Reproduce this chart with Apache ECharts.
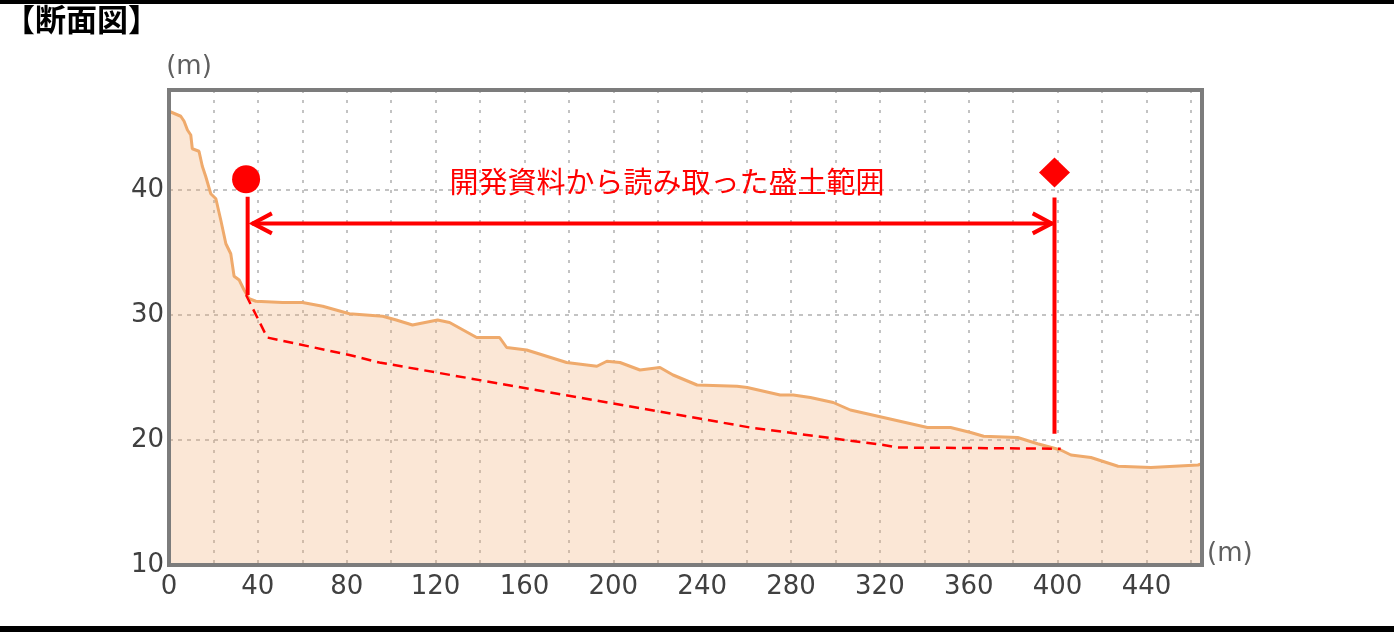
<!DOCTYPE html>
<html><head><meta charset="utf-8">
<script src="https://cdn.jsdelivr.net/npm/echarts@6/dist/echarts.min.js"></script>
<style>html,body{margin:0;padding:0;background:#fff;}#c{width:1394px;height:632px;}</style>
</head><body><div id="c"></div>
<script>
// ---- data ----
const titleText = '【断面図】';
const unitText = '(m)';
const xMin = 0, xMax = 465, xGrid = 20, xLabelStep = 40;
const yMin = 10, yMax = 48, yStep = 10;
// ground surface profile [distance m, elevation m]
const profile = [
  [0,46.3],[5.3,45.9],[6.8,45.5],[8.3,44.8],[9.8,44.4],[10.5,43.3],[13.5,43.1],[15,41.9],
  [16.5,41.1],[18.8,39.7],[21.1,39.3],[23.3,37.6],[25.6,35.7],[27.8,34.9],[29.3,33.1],
  [31.6,32.8],[33.8,32.0],[36.1,31.3],[39.1,31.1],[51.1,31.0],[60.1,31.0],[69.2,30.7],
  [81.2,30.1],[96.2,29.9],[102.3,29.6],[109.6,29.2],[120.9,29.6],[126.3,29.4],[138.5,28.2],
  [148.8,28.2],[152,27.4],[161,27.2],[179,26.2],[192.6,25.9],[197.1,26.3],[203,26.2],
  [212,25.6],[221,25.8],[226.9,25.2],[237.7,24.4],[255.7,24.3],[260.3,24.2],[275.1,23.6],
  [281,23.6],[288.7,23.4],[299,23.0],[306.7,22.4],[321.6,21.8],[341.4,21.0],[351.8,21.0],
  [360.9,20.6],[366.7,20.3],[382,20.2],[391,19.7],[401.4,19.2],[406,18.8],[415,18.6],
  [427.2,17.9],[442,17.8],[463.2,18.0],[465,18.1]
];
// original ground (bottom of fill), dashed
const originalGround = [
  [34.7,31.6],[44.2,28.2],[81.2,26.8],[94.7,26.2],[261.6,21.0],[321.6,19.6],[327.9,19.4],[401.4,19.3]
];
const startMarker = [34.7, 40.86];
const endMarker = [398.6, 41.4];
const startBar = [[35.4,39.46],[35.4,31.6]];
const endBar = [[398.6,39.4],[398.6,20.5]];
const rangeArrow = [[37.3, 397.8, 37.33]]; // from x, to x, at y
const rangeLabelText = '開発資料から読み取った盛土範囲';
const rangeLabelPos = [[224.2, 40.64]];

// ---- chart ----
const chart = echarts.init(document.getElementById('c'));
const RED = '#ff0000';
const gridL = 169, gridR = 192, gridT = 90, gridB = 67;
chart.setOption({
  animation: false,
  backgroundColor: '#ffffff',
  grid: {left: gridL, right: gridR, top: gridT, bottom: gridB, show: false},
  xAxis: {
    type: 'value', min: xMin, max: xMax, interval: xGrid,
    axisLine: {show: false}, axisTick: {show: false},
    axisLabel: {
      margin: 9, fontSize: 26, color: '#404040', fontFamily: 'DejaVu Sans',
      showMaxLabel: false,
      formatter: v => (v % xLabelStep === 0 ? String(v) : '')
    },
    splitLine: {show: true, lineStyle: {color: '#b0b0b0', width: 1.5, type: [3, 7]}}
  },
  yAxis: {
    type: 'value', min: yMin, max: yMax, interval: yStep,
    axisLine: {show: false}, axisTick: {show: false},
    axisLabel: {
      margin: 5, fontSize: 26, color: '#404040', fontFamily: 'DejaVu Sans',
      showMaxLabel: false,
      formatter: v => (v % yStep === 0 ? String(v) : '')
    },
    splitLine: {show: true, lineStyle: {color: '#b0b0b0', width: 1.5, type: [4, 5]}}
  },
  graphic: [
    {type: 'rect', shape: {x: 0, y: 0, width: 1394, height: 4}, style: {fill: '#000'}, z: 200},
    {type: 'rect', shape: {x: 0, y: 626, width: 1394, height: 6}, style: {fill: '#000'}, z: 200},
    {type: 'text', left: 4, top: 4, style: {text: titleText, fontSize: 31, fontWeight: 'bold', fill: '#000', fontFamily: 'Noto Sans CJK JP'}, z: 200},
    {type: 'rect', shape: {x: gridL, y: gridT, width: 1394 - gridL - gridR, height: 632 - gridT - gridB},
      style: {fill: null, stroke: '#7c7c7c', lineWidth: 4}, z: 150},
    {type: 'text', x: 189, y: 67, style: {text: unitText, fontSize: 26, fill: '#606060', fontFamily: 'DejaVu Sans', align: 'center', verticalAlign: 'middle'}, z: 200},
    {type: 'text', x: 1207, y: 554, style: {text: unitText, fontSize: 26, fill: '#606060', fontFamily: 'DejaVu Sans', align: 'left', verticalAlign: 'middle'}, z: 200}
  ],
  series: [
    {
      type: 'line', data: profile, symbol: 'none', z: 2,
      lineStyle: {color: '#efaa6c', width: 3},
      areaStyle: {color: 'rgba(240,172,115,0.42)', origin: 'start'}
    },
    {
      type: 'line', data: originalGround, symbol: 'none', z: 5,
      lineStyle: {color: RED, width: 2.5, type: [10, 6]}
    },
    {type: 'line', data: startBar, symbol: 'none', z: 6, lineStyle: {color: RED, width: 4}},
    {type: 'line', data: endBar, symbol: 'none', z: 6, lineStyle: {color: RED, width: 4}},
    {
      type: 'custom', z: 6, data: rangeArrow,
      renderItem: (params, api) => {
        const a = api.coord([api.value(0), api.value(2)]);
        const b = api.coord([api.value(1), api.value(2)]);
        const st = {stroke: RED, lineWidth: 4, fill: null};
        return {type: 'group', children: [
          {type: 'line', shape: {x1: a[0], y1: a[1], x2: b[0], y2: b[1]}, style: st},
          {type: 'polyline', shape: {points: [[a[0] + 20, a[1] - 10], [a[0] + 1, a[1]], [a[0] + 20, a[1] + 10]]}, style: st},
          {type: 'polyline', shape: {points: [[b[0] - 20, b[1] - 10], [b[0] - 1, b[1]], [b[0] - 20, b[1] + 10]]}, style: st}
        ]};
      }
    },
    {type: 'scatter', data: [startMarker], symbol: 'circle', symbolSize: 28, z: 7, itemStyle: {color: RED, opacity: 1}},
    {type: 'scatter', data: [endMarker], symbol: 'diamond', symbolSize: [31, 30], z: 7, itemStyle: {color: RED, opacity: 1}},
    {
      type: 'custom', z: 8, data: rangeLabelPos,
      renderItem: (params, api) => {
        const p = api.coord([api.value(0), api.value(1)]);
        return {type: 'text', x: p[0], y: p[1], style: {
          text: rangeLabelText, fontSize: 29, fill: RED, fontFamily: 'Noto Sans CJK JP',
          align: 'center', verticalAlign: 'middle'}};
      }
    }
  ]
});
</script></body></html>
